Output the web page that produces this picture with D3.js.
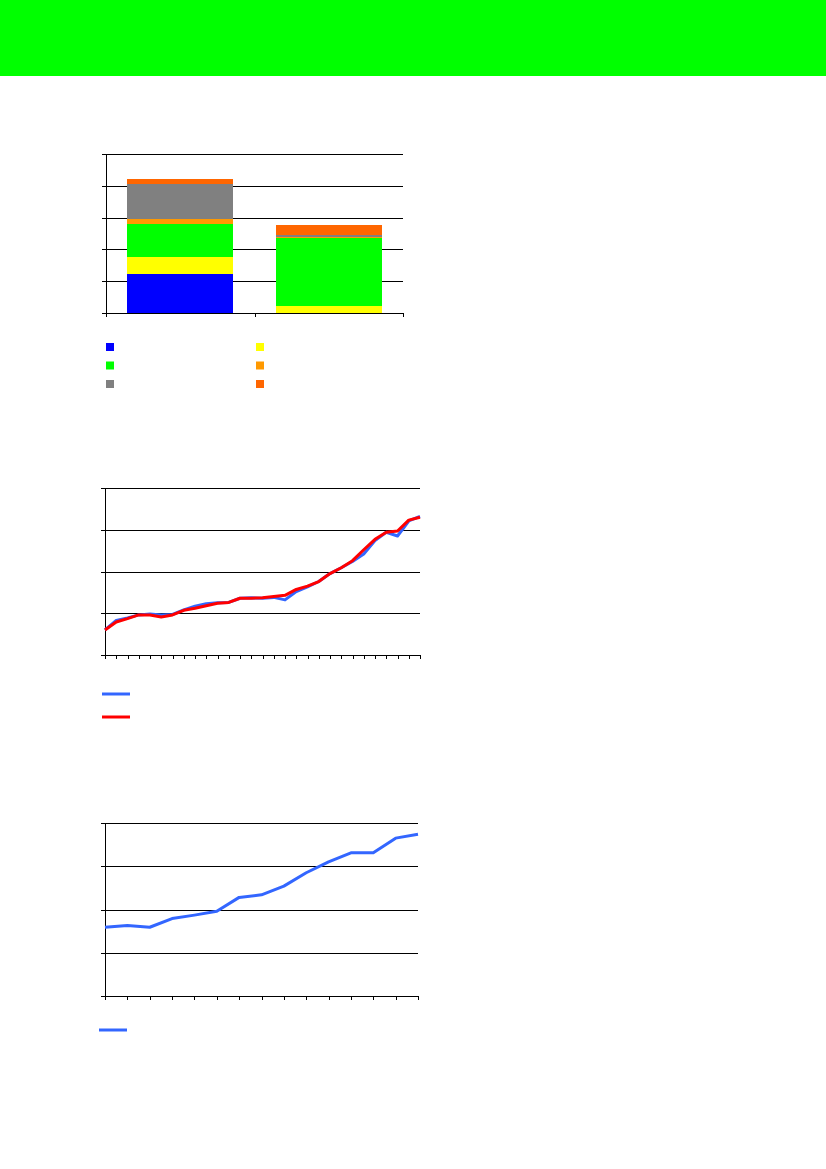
<!DOCTYPE html>
<html>
<head>
<meta charset="utf-8">
<script src="https://cdn.jsdelivr.net/npm/d3@7"></script>
<style>
  body { margin: 0; background: #fff; }
  svg { display: block; }
</style>
</head>
<body>
<script>
// stacked bars: two categories, six layers (bottom to top)
const barCategories = ["A", "B"];
const layerKeys = ["blue", "yellow", "green", "orange", "gray", "red"];
const layerColors = ["#0000ff", "#ffff00", "#00ff00", "#ff9900", "#808080", "#ff6600"];
const layerBlue = [1.24, 0];
const layerYellow = [0.53, 0.23];
const layerGreen = [1.04, 2.13];
const layerOrange = [0.16, 0.04];
const layerGray = [1.08, 0.04];
const layerRed = [0.15, 0.34];
const barTicks = [0, 1, 2, 3, 4, 5];

// middle chart: two series, 29 points
const seriesBlue = [0.60, 0.83, 0.89, 0.96, 0.98, 0.96, 0.97, 1.08, 1.17, 1.23, 1.25, 1.26, 1.36, 1.37, 1.36,
  1.38, 1.32, 1.52, 1.63, 1.76, 1.95, 2.09, 2.24, 2.42, 2.74, 2.94, 2.85, 3.21, 3.32];
const seriesRed = [0.60, 0.79, 0.87, 0.96, 0.96, 0.91, 0.96, 1.07, 1.12, 1.18, 1.24, 1.26, 1.36, 1.36, 1.37,
  1.40, 1.43, 1.57, 1.65, 1.76, 1.95, 2.09, 2.26, 2.52, 2.77, 2.94, 2.97, 3.23, 3.30];
const lineTicks = [0, 1, 2, 3, 4];

// bottom chart: one series, 15 points
const seriesSingle = [1.59, 1.63, 1.59, 1.79, 1.87, 1.96, 2.28, 2.34, 2.54, 2.85, 3.10, 3.31, 3.31, 3.65, 3.74];

const svg = d3.select("body").append("svg")
  .attr("width", 826)
  .attr("height", 1169);

// green header band
svg.append("rect")
  .attr("x", 0).attr("y", 0)
  .attr("width", 826).attr("height", 76)
  .attr("fill", "#00ff00");

function frame(g, y, w, h, ticks) {
  // gridlines
  g.append("g")
    .call(d3.axisLeft(y).tickValues(ticks.slice(1)).tickSize(-w).tickFormat(""))
    .call(s => s.select(".domain").remove())
    .selectAll("line").attr("stroke", "#000");
  // y axis with small ticks to the left
  g.append("g")
    .call(d3.axisLeft(y).tickValues(ticks).tickSizeInner(4).tickSizeOuter(0).tickFormat(""))
    .selectAll("line,path").attr("stroke", "#000");
}

function xAxis(g, x, h, vals) {
  g.append("g")
    .attr("transform", `translate(0,${h})`)
    .call(d3.axisBottom(x).tickValues(vals).tickSizeInner(4).tickSizeOuter(0).tickFormat(""))
    .selectAll("line,path").attr("stroke", "#000");
}

// ---------- stacked bar chart ----------
{
  const left = 106, top = 154, w = 297, h = 159;
  const g = svg.append("g").attr("transform", `translate(${left},${top})`)
    .attr("shape-rendering", "crispEdges");

  const rows = barCategories.map((c, i) => ({
    cat: c,
    blue: layerBlue[i], yellow: layerYellow[i], green: layerGreen[i],
    orange: layerOrange[i], gray: layerGray[i], red: layerRed[i]
  }));
  const stacked = d3.stack().keys(layerKeys)(rows);

  const x = d3.scaleBand().domain(barCategories).range([0, w])
    .paddingInner(0.286).paddingOuter(0.143);
  const y = d3.scaleLinear().domain([0, 5]).range([h, 0]);

  frame(g, y, w, h, barTicks);

  g.append("g").selectAll("g")
    .data(stacked)
    .join("g")
    .attr("fill", (d, i) => layerColors[i])
    .selectAll("rect")
    .data(d => d)
    .join("rect")
    .attr("x", d => x(d.data.cat))
    .attr("width", x.bandwidth())
    .attr("y", d => y(d[1]))
    .attr("height", d => y(d[0]) - y(d[1]));

  // category boundaries on the x axis
  const xb = d3.scaleLinear().domain([0, barCategories.length]).range([0, w]);
  xAxis(g, xb, h, d3.range(barCategories.length + 1));

  // legend (two columns, row-major)
  const leg = svg.append("g").attr("transform", "translate(106,343)");
  leg.selectAll("rect")
    .data(layerColors)
    .join("rect")
    .attr("x", (d, i) => (i % 2) * 150)
    .attr("y", (d, i) => Math.floor(i / 2) * 18.5)
    .attr("width", 8).attr("height", 8)
    .attr("fill", d => d);
}

// ---------- two-series line chart ----------
{
  const left = 105, top = 488, w = 315, h = 167;
  const g = svg.append("g").attr("transform", `translate(${left},${top})`);
  const idx = d3.range(seriesBlue.length);
  const x = d3.scalePoint().domain(idx).range([0, w]);
  const y = d3.scaleLinear().domain([0, 4]).range([h, 0]);

  const axes = g.append("g").attr("shape-rendering", "crispEdges");
  frame(axes, y, w, h, lineTicks);
  xAxis(axes, x, h, idx);

  const line = data => d3.line().x((d, i) => x(i)).y(d => y(d))(data);
  g.append("path").attr("d", line(seriesBlue))
    .attr("fill", "none").attr("stroke", "#3366ff").attr("stroke-width", 3)
    .attr("stroke-linejoin", "round");
  g.append("path").attr("d", line(seriesRed))
    .attr("fill", "none").attr("stroke", "#ff0000").attr("stroke-width", 3)
    .attr("stroke-linejoin", "round");

  svg.append("line").attr("x1", 102).attr("x2", 130).attr("y1", 694).attr("y2", 694)
    .attr("stroke", "#3366ff").attr("stroke-width", 3);
  svg.append("line").attr("x1", 102).attr("x2", 130).attr("y1", 717).attr("y2", 717)
    .attr("stroke", "#ff0000").attr("stroke-width", 3);
}

// ---------- single-series line chart ----------
{
  const left = 105, top = 823, w = 313, h = 173;
  const g = svg.append("g").attr("transform", `translate(${left},${top})`);
  const idx = d3.range(seriesSingle.length);
  const x = d3.scalePoint().domain(idx).range([0, w]);
  const y = d3.scaleLinear().domain([0, 4]).range([h, 0]);

  const axes = g.append("g").attr("shape-rendering", "crispEdges");
  frame(axes, y, w, h, lineTicks);
  xAxis(axes, x, h, idx);

  g.append("path")
    .attr("d", d3.line().x((d, i) => x(i)).y(d => y(d))(seriesSingle))
    .attr("fill", "none").attr("stroke", "#3366ff").attr("stroke-width", 3)
    .attr("stroke-linejoin", "round");

  svg.append("line").attr("x1", 99).attr("x2", 127).attr("y1", 1030).attr("y2", 1030)
    .attr("stroke", "#3366ff").attr("stroke-width", 3);
}
</script>
</body>
</html>
